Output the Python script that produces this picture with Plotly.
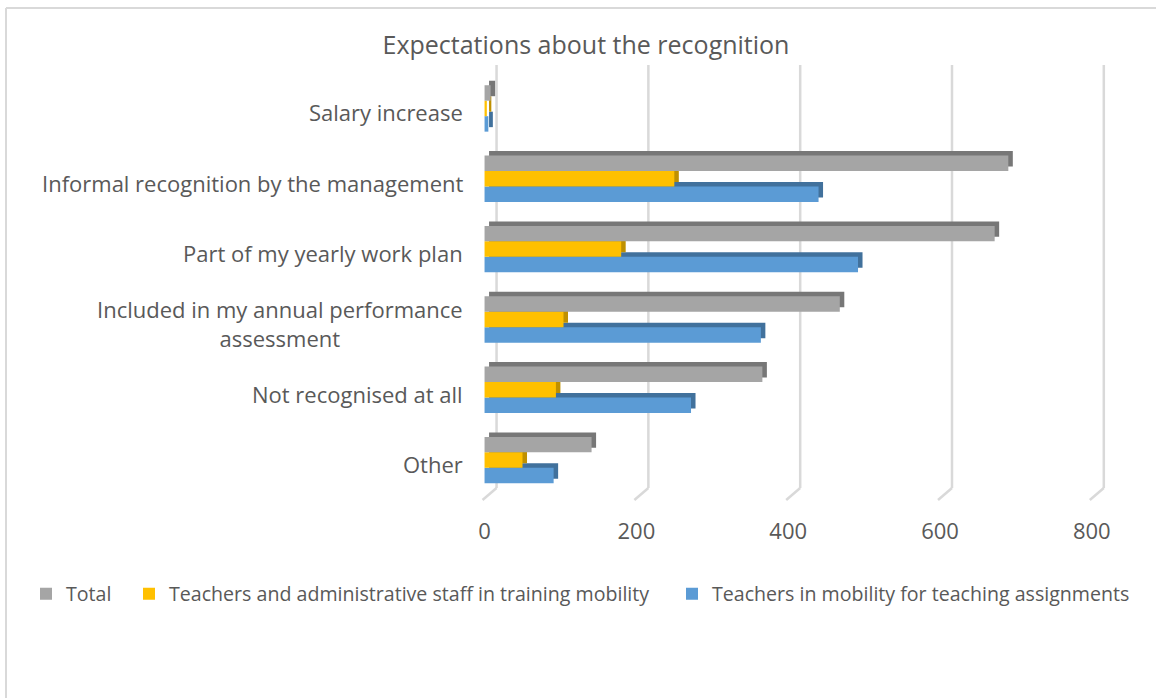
import plotly.graph_objects as go

# ---------------- data ----------------
categories = [
    "Salary increase",
    "Informal recognition by the management",
    "Part of my yearly work plan",
    "Included in my annual performance assessment",
    "Not recognised at all",
    "Other",
]
category_labels = [
    "Salary increase",
    "Informal recognition by the management",
    "Part of my yearly work plan",
    "Included in my annual performance<br>assessment",
    "Not recognised at all",
    "Other",
]
total = [8, 690, 672, 468, 366, 141]
training = [3, 250, 180, 104, 94, 50]
teaching = [5, 440, 492, 364, 272, 91]
x_ticks = [0, 200, 400, 600, 800]
series_names = [
    "Total",
    "Teachers and administrative staff in training mobility",
    "Teachers in mobility for teaching assignments",
]
title_text = "Expectations about the recognition"

# ---------------- styling / geometry ----------------
W, H = 1156, 698
FONT = "Open Sans"
TXT = "#595959"
X_MIN, X_MAX = -6, 820
M_L, M_R, M_T, M_B = 480, 49, 77, 199
plot_w = W - M_L - M_R
plot_h = H - M_T - M_B
ppu_x = plot_w / (X_MAX - X_MIN)          # px per data unit (x)
ppu_y = plot_h / len(categories)           # px per category

DEPTH_PX = 4.5
dx = DEPTH_PX / ppu_x
dy = DEPTH_PX / ppu_y
BAR_W = 0.22

front_colors = {"total": "#a5a5a5", "training": "#ffc000", "teaching": "#5b9bd5"}
side_colors = {"total": "#777777", "training": "#bf9000", "teaching": "#41719c"}
offsets = {"teaching": -0.277, "training": -0.057, "total": 0.163}

series = [
    ("teaching", teaching, series_names[2], 3, "legend3"),
    ("training", training, series_names[1], 2, "legend2"),
    ("total", total, series_names[0], 1, "legend"),
]

fig = go.Figure()
for key, vals, name, rank, leg in series:
    # depth (top/right faces) drawn behind the front face
    fig.add_trace(go.Bar(
        x=vals, y=categories, orientation="h", base=dx,
        offset=offsets[key] + dy, width=BAR_W,
        marker=dict(color=side_colors[key], line=dict(width=0)),
        showlegend=False, hoverinfo="skip",
    ))
    fig.add_trace(go.Bar(
        x=vals, y=categories, orientation="h", name=name,
        offset=offsets[key], width=BAR_W,
        marker=dict(color=front_colors[key], line=dict(width=0)),
        legend=leg, legendrank=rank,
    ))

# back-wall gridlines with a slanted floor segment (3-D look)
GRID_BACK_PX = 12
GRID_FRONT_PX = -2
g_back = GRID_BACK_PX / ppu_x
g_front = GRID_FRONT_PX / ppu_x
y_top = (H - M_B - 65) / plot_h
y_back = (H - M_B - 488) / plot_h
y_front = (H - M_B - 500) / plot_h
shapes = []
for v in x_ticks:
    shapes.append(dict(type="line", xref="x", yref="paper",
                       x0=v + g_back, x1=v + g_back, y0=y_back, y1=y_top,
                       line=dict(color="#d9d9d9", width=2.5), layer="below"))
    shapes.append(dict(type="line", xref="x", yref="paper",
                       x0=v + g_back, x1=v + g_front, y0=y_back, y1=y_front,
                       line=dict(color="#d9d9d9", width=2.5), layer="below"))

# chart border (top and left edges visible)
def px_to_paper_x(px):
    return (px - M_L) / plot_w

def py_to_paper_y(py):
    return (H - M_B - py) / plot_h

shapes.append(dict(type="line", xref="paper", yref="paper",
                   x0=px_to_paper_x(6), x1=px_to_paper_x(W + 5),
                   y0=py_to_paper_y(8), y1=py_to_paper_y(8),
                   line=dict(color="#d9d9d9", width=2)))
shapes.append(dict(type="line", xref="paper", yref="paper",
                   x0=px_to_paper_x(6), x1=px_to_paper_x(6),
                   y0=py_to_paper_y(8), y1=py_to_paper_y(H + 5),
                   line=dict(color="#d9d9d9", width=2)))

# category labels (centered multi-line, right-aligned block)
annotations = []
for cat, lab in zip(categories, category_labels):
    annotations.append(dict(
        x=0, xref="paper", xanchor="right", xshift=-(M_L - 465),
        y=cat, yref="y", yanchor="middle", text=lab, align="center",
        showarrow=False, font=dict(family=FONT, size=22, color=TXT),
    ))

leg_common = dict(orientation="h", yanchor="middle", y=py_to_paper_y(594),
                  xanchor="left", font=dict(family=FONT, size=19.6, color=TXT),
                  bgcolor="rgba(0,0,0,0)", borderwidth=0)

fig.update_layout(
    width=W, height=H,
    margin=dict(l=M_L, r=M_R, t=M_T, b=M_B, autoexpand=False),
    paper_bgcolor="white", plot_bgcolor="white",
    barmode="overlay",
    title=dict(text=title_text, x=586 / W, xanchor="center",
               y=1 - 45 / H, yanchor="middle", yref="container",
               font=dict(family=FONT, size=25, color=TXT)),
    xaxis=dict(range=[X_MIN, X_MAX], tickvals=x_ticks, showgrid=False,
               zeroline=False, showline=False, ticks="outside", ticklen=13,
               tickcolor="rgba(0,0,0,0)",
               tickfont=dict(family=FONT, size=22, color=TXT)),
    yaxis=dict(type="category", categoryorder="array",
               categoryarray=list(reversed(categories)),
               range=[-0.5, len(categories) - 0.5],
               showticklabels=False, showgrid=False, zeroline=False,
               showline=False, ticks=""),
    shapes=shapes,
    annotations=annotations,
    legend=dict(x=px_to_paper_x(26), **leg_common),
    legend2=dict(x=px_to_paper_x(129), **leg_common),
    legend3=dict(x=px_to_paper_x(672), **leg_common),
    showlegend=True,
)

fig.write_html("out.html")
